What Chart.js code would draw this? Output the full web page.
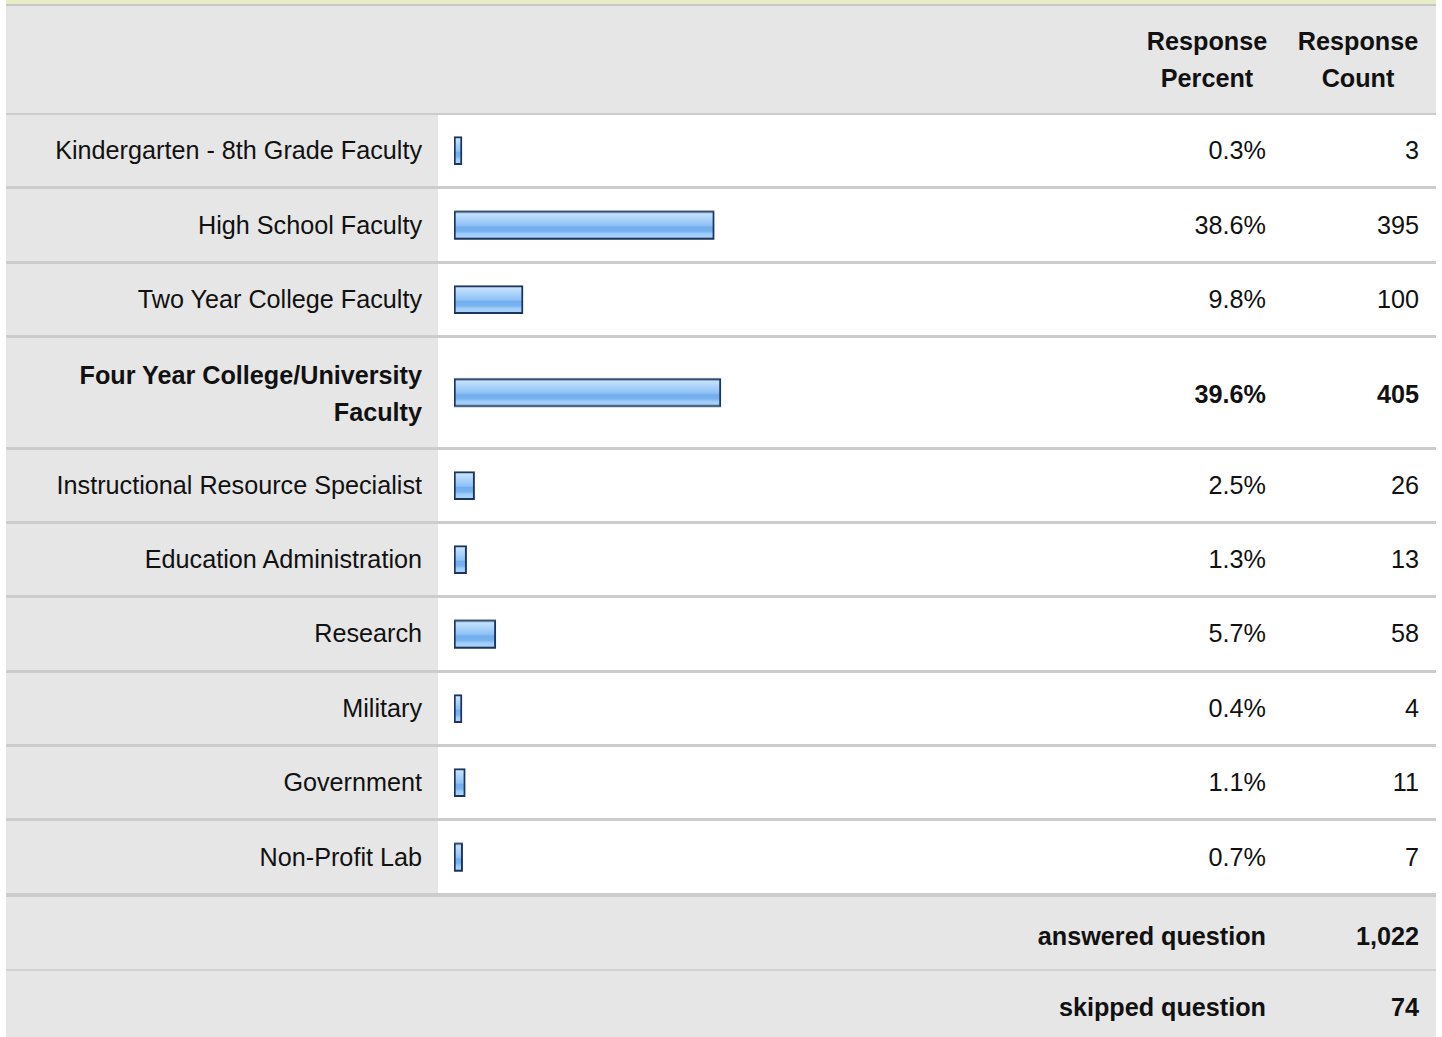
<!DOCTYPE html>
<html>
<head>
    <title>Response Summary</title>
    <script src="https://cdn.jsdelivr.net/npm/chart.js"></script>
    <style>
        body { margin: 0; background: #fff; font-family: Arial, "Liberation Sans", sans-serif; font-size: 25.2px; color: #111; }
        #wrap { position: absolute; left: 6px; top: 0; width: 1430px; }
        .band { height: 4px; background: #e7ebc6; border-bottom: 2px solid #c8c8c8; }
        table { border-collapse: collapse; table-layout: fixed; width: 1430px; }
        th, td { line-height: 37px; padding: 0; }
        thead th { background: #e6e6e6; font-weight: bold; text-align: center; padding: 17px 0 16px 0; border-bottom: 2px solid #cccccc; }
        tbody td { padding: 17.2px 0; border-bottom: 3px solid #cccccc; background: #fff; }
        tbody tr:last-child td { border-bottom: 4px solid #cccccc; }
        tbody tr.max td { padding: 19.2px 0 15.2px 0; font-weight: bold; }
        td.label { background: #e6e6e6 !important; text-align: right; padding-right: 16px !important; padding-left: 16px !important; }
        td.pct { text-align: right; padding-right: 14px !important; }
        td.cnt { text-align: right; padding-right: 17px !important; }
        td.bar { position: relative; }
        td.bar div { position: absolute; left: 0; top: 0; bottom: 0; width: 684px; }
        tfoot td { background: #e6e6e6; font-weight: bold; }
        tfoot tr:first-child td { padding: 21px 0 14px 0; border-bottom: 2px solid #d2d2d2; }
        tfoot tr:last-child td { padding: 18.5px 0 16px 0; }
        tfoot td.sum { text-align: right; padding-right: 14px !important; }
    </style>
</head>
<body>
    <div id="wrap">
        <div class="band"></div>
        <table id="summary">
            <colgroup>
                <col style="width:432px"><col style="width:696px"><col style="width:146px"><col style="width:156px">
            </colgroup>
            <thead>
                <tr><th></th><th></th><th>Response<br>Percent</th><th>Response<br>Count</th></tr>
            </thead>
            <tbody></tbody>
            <tfoot></tfoot>
        </table>
    </div>

    <script>
        const categories = [
            "Kindergarten - 8th Grade Faculty",
            "High School Faculty",
            "Two Year College Faculty",
            "Four Year College/University Faculty",
            "Instructional Resource Specialist",
            "Education Administration",
            "Research",
            "Military",
            "Government",
            "Non-Profit Lab"
        ];
        const percents = [0.3, 38.6, 9.8, 39.6, 2.5, 1.3, 5.7, 0.4, 1.1, 0.7];
        const counts = [3, 395, 100, 405, 26, 13, 58, 4, 11, 7];
        const totalLabels = ["answered question", "skipped question"];
        const totals = [1022, 74];

        const tbody = document.querySelector('#summary tbody');
        const tfoot = document.querySelector('#summary tfoot');
        const maxIdx = percents.indexOf(Math.max(...percents));

        // bar fill, vertical gradient like the old survey images
        function barFill(ctx) {
            const area = ctx.chart.chartArea;
            if (!area) return '#8ec2f6';
            const mid = (area.top + area.bottom) / 2;
            const g = ctx.chart.ctx.createLinearGradient(0, mid - 14, 0, mid + 14);
            g.addColorStop(0, '#d4eafe');
            g.addColorStop(0.2, '#b6d9fb');
            g.addColorStop(0.4, '#9ccaf8');
            g.addColorStop(0.52, '#8cc0f5');
            g.addColorStop(0.56, '#72aeee');
            g.addColorStop(0.72, '#78b3f0');
            g.addColorStop(0.8, '#9dccf8');
            g.addColorStop(1, '#b4d8fb');
            return g;
        }

        categories.forEach((cat, i) => {
            const row = document.createElement('tr');
            if (i === maxIdx) row.className = 'max';
            row.innerHTML = `
                <td class="label">${cat}</td>
                <td class="bar"><div><canvas id="bar${i}"></canvas></div></td>
                <td class="pct">${percents[i].toFixed(1)}%</td>
                <td class="cnt">${counts[i].toLocaleString('en-US')}</td>
            `;
            tbody.appendChild(row);
        });

        totalLabels.forEach((lab, i) => {
            const row = document.createElement('tr');
            row.innerHTML = `
                <td class="sum" colspan="3">${lab}</td>
                <td class="cnt">${totals[i].toLocaleString('en-US')}</td>
            `;
            tfoot.appendChild(row);
        });

        // one small bar chart per row so the bars line up with the table rows
        categories.forEach((cat, i) => {
            new Chart(document.getElementById('bar' + i), {
                type: 'bar',
                data: {
                    labels: [cat],
                    datasets: [{
                        data: [percents[i]],
                        base: -0.6,
                        backgroundColor: barFill,
                        borderColor: '#1c355e',
                        borderWidth: 2,
                        borderSkipped: false,
                        barThickness: 28,
                        minBarLength: 8
                    }]
                },
                options: {
                    indexAxis: 'y',
                    responsive: true,
                    maintainAspectRatio: false,
                    animation: false,
                    events: [],
                    layout: { padding: { left: 16, right: 0, top: 0, bottom: 0 } },
                    scales: {
                        x: { min: -0.6, max: 100, display: false },
                        y: { display: false }
                    },
                    plugins: {
                        legend: { display: false },
                        tooltip: { enabled: false }
                    }
                }
            });
        });
    </script>
</body>
</html>
